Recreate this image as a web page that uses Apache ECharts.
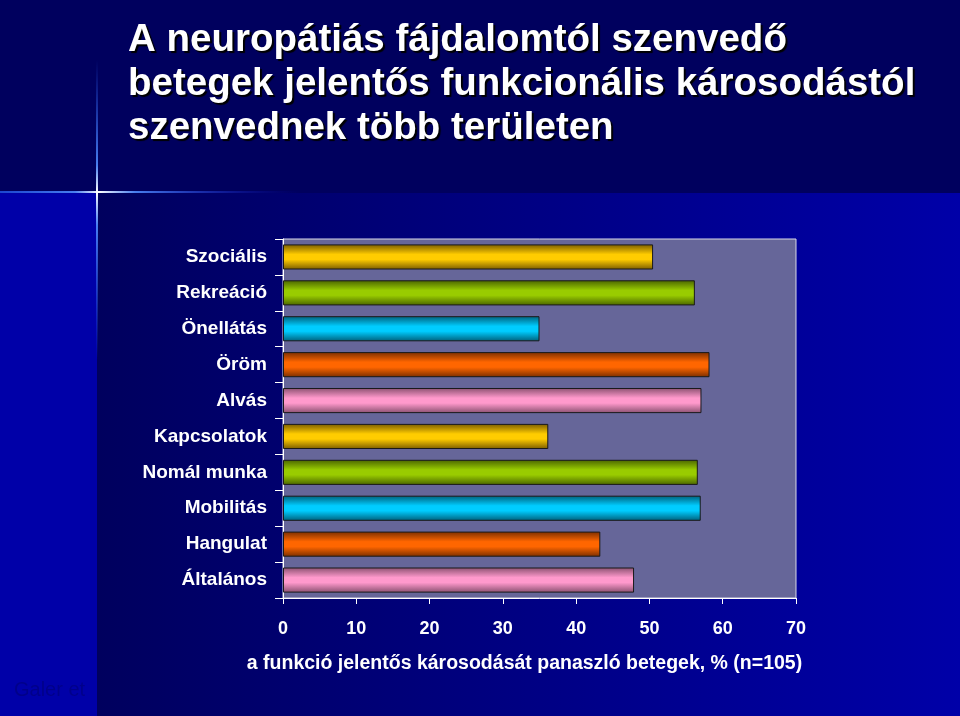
<!DOCTYPE html>
<html><head><meta charset="utf-8">
<script src="https://cdn.jsdelivr.net/npm/echarts@6/dist/echarts.min.js"></script>
<style>html,body{margin:0;padding:0;background:#000066;}#c{width:960px;height:716px;}</style>
</head><body><div id="c"></div>
<script>
const categories = ['Szociális','Rekreáció','Önellátás','Öröm','Alvás','Kapcsolatok','Nomál munka','Mobilitás','Hangulat','Általános'];
const values = [50.5, 56.2, 35.0, 58.2, 57.1, 36.2, 56.6, 57.0, 43.3, 47.9];
const xTicks = [0, 10, 20, 30, 40, 50, 60, 70];
const titleText = 'A neuropátiás fájdalomtól szenvedő\nbetegek jelentős funkcionális károsodástól\nszenvednek több területen';
const axisName = 'a funkció jelentős károsodását panaszló betegek, % (n=105)';

const palette = [
  ['#7a5c00','#ffcc00'],
  ['#4a6400','#99cc00'],
  ['#005f7a','#00ccff'],
  ['#7a2e00','#ff6600'],
  ['#8a5070','#ff99cc']
];
const font = '"Liberation Sans",Arial,sans-serif';

const chart = echarts.init(document.getElementById('c'));
const barData = values.map((v, i) => {
  const p = palette[i % palette.length];
  return {
    value: v,
    itemStyle: {
      color: new echarts.graphic.LinearGradient(0, 0, 0, 1, [
        {offset: 0, color: p[0]},
        {offset: 0.4, color: p[1]},
        {offset: 0.6, color: p[1]},
        {offset: 1, color: p[0]}
      ]),
      borderColor: '#1a1a1a',
      borderWidth: 1
    }
  };
});

chart.setOption({
  backgroundColor: '#000066',
  animation: false,
  graphic: [
    {type:'rect', z:-10, shape:{x:97,y:193,width:863,height:523},
     style:{fill:new echarts.graphic.LinearGradient(0,0,1,0,[{offset:0,color:'#00005e'},{offset:1,color:'#0000a8'}])}},
    {type:'rect', z:-9, shape:{x:0,y:193,width:97,height:523}, style:{fill:'#0000a8'}},
    {type:'rect', z:-9, shape:{x:0,y:0,width:960,height:193}, style:{fill:'#00005e'}},
    {type:'rect', z:-8, shape:{x:0,y:191,width:300,height:2},
     style:{fill:new echarts.graphic.LinearGradient(0,0,1,0,[{offset:0,color:'rgba(40,100,255,0.7)'},{offset:0.25,color:'rgba(80,140,255,0.9)'},{offset:0.33,color:'#ffffff'},{offset:0.45,color:'rgba(80,140,255,0.9)'},{offset:1,color:'rgba(0,0,200,0)'}])}},
    {type:'rect', z:-8, shape:{x:96,y:60,width:2,height:300},
     style:{fill:new echarts.graphic.LinearGradient(0,0,0,1,[{offset:0,color:'rgba(40,100,255,0)'},{offset:0.35,color:'rgba(80,140,255,0.9)'},{offset:0.44,color:'#ffffff'},{offset:0.55,color:'rgba(80,140,255,0.9)'},{offset:1,color:'rgba(40,100,255,0)'}])}},
    {type:'text', z:-7, left:14, top:680, style:{text:'Galer et', fill:'#00008a', font:'20px ' + font}}
  ],
  title: {
    text: titleText,
    left: 123, top: 13,
    textStyle: {
      color: '#ffffff', fontFamily: font, fontWeight: 'bold', fontSize: 38.5, lineHeight: 44,
      textShadowColor: '#000000', textShadowOffsetX: 2, textShadowOffsetY: 2, textShadowBlur: 1
    }
  },
  grid: {
    left: 283, right: 164, top: 239, bottom: 118,
    show: true, backgroundColor: '#666699', borderColor: '#d8d8e8', borderWidth: 1
  },
  xAxis: {
    type: 'value', min: xTicks[0], max: xTicks[xTicks.length - 1], interval: 10,
    name: axisName, nameLocation: 'middle', nameGap: 56,
    nameTextStyle: {color: '#ffffff', fontFamily: font, fontWeight: 'bold', fontSize: 19.5, padding: [0, 30, 0, 0]},
    axisLine: {show: true, lineStyle: {color: '#ffffff', width: 1}},
    axisTick: {show: true, length: 6, lineStyle: {color: '#ffffff'}},
    splitLine: {show: false},
    axisLabel: {color: '#ffffff', fontFamily: font, fontWeight: 'bold', fontSize: 18, margin: 22}
  },
  yAxis: {
    type: 'category', data: categories, inverse: true,
    axisLine: {show: true, lineStyle: {color: '#ffffff', width: 1}},
    axisTick: {show: true, length: 8, lineStyle: {color: '#ffffff'}},
    axisLabel: {color: '#ffffff', fontFamily: font, fontWeight: 'bold', fontSize: 19, margin: 16}
  },
  series: [{
    type: 'bar', data: barData, barCategoryGap: '30%'
  }]
});
</script></body></html>
